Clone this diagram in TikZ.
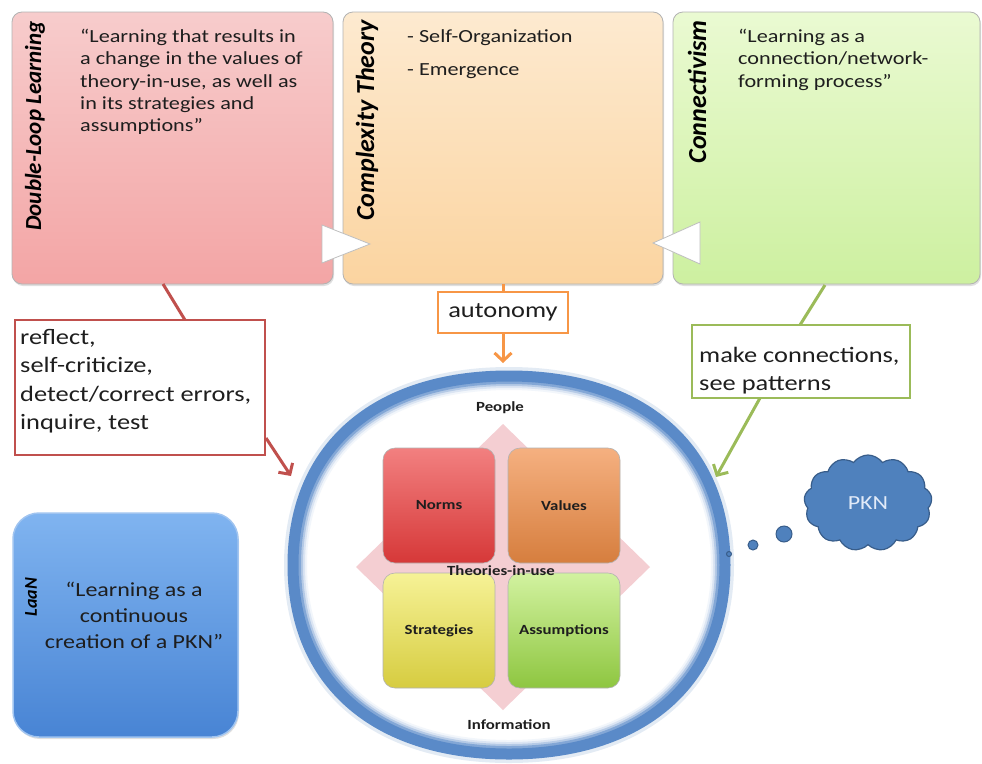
\documentclass[tikz,border=0pt]{standalone}
\usepackage{fontspec}
\setmainfont{Carlito}[FakeStretch=1.2]
\newfontfamily\rotfont{Carlito}
\usetikzlibrary{arrows.meta,shapes.symbols,shadows,calc}
\definecolor{cred}{HTML}{C0504D}
\definecolor{corange}{HTML}{F79646}
\definecolor{cgreen}{HTML}{9BBB59}
\definecolor{cblue}{HTML}{4F81BD}
\definecolor{cbluedark}{HTML}{385D8A}
\definecolor{ringblue}{HTML}{5A8AC8}
\definecolor{txt}{HTML}{1E1E1E}
\newcommand{\sqpath}[2]{(509+#1,565) .. controls (509+#1,565-0.62*#2) and (509+0.62*#1,565-#2) .. (509,565-#2) .. controls (509-0.62*#1,565-#2) and (509-#1,565-0.62*#2) .. (509-#1,565) .. controls (509-#1,565+0.62*#2) and (509-0.62*#1,565+#2) .. (509,565+#2) .. controls (509+0.62*#1,565+#2) and (509+#1,565+0.62*#2) .. (509+#1,565) -- cycle}
\begin{document}
\begin{tikzpicture}[x=1pt,y=-1pt,
  bigbox/.style={draw=black!30, line width=0.8pt, rounded corners=10pt, inner sep=0pt,
    drop shadow={opacity=0.25,shadow xshift=1pt,shadow yshift=-2pt}},
  boxtxt/.style={anchor=north west, align=left, inner sep=0pt, text=txt,
    font=\fontsize{18.5}{22.3}\selectfont},
  vtitle/.style={rotate=90, anchor=east, inner sep=0pt, text=black},
  callout/.style={line width=2pt, fill=white, inner sep=0pt},
  callouttxt/.style={anchor=north west, align=left, inner sep=0pt, text=txt,
    font=\fontsize{22}{28.5}\selectfont},
  conn/.style={line width=3pt},
  arrowed/.style={-{Straight Barb[length=8pt,width=17pt,line width=3pt]}},
  tile/.style={rounded corners=12pt, minimum width=112pt, minimum height=115pt, inner sep=0pt,
    draw=white!70!black, line width=0.6pt, text=txt,
    font=\bfseries\fontsize{14}{16}\selectfont},
  lbl/.style={inner sep=0pt, text=txt, font=\bfseries\fontsize{14}{16}\selectfont},
  dot/.style={circle, inner sep=0pt, fill=cblue, draw=cbluedark, line width=1pt}
]
\useasboundingbox (0,0) rectangle (982,763);

% ---- top boxes
\node[bigbox, minimum width=321pt, minimum height=272pt, top color={rgb,255:red,247;green,204;blue,204}, bottom color={rgb,255:red,243;green,165;blue,165}] (dll) at (172.5,148) {};
\node[bigbox, minimum width=320pt, minimum height=272pt, top color={rgb,255:red,253;green,234;blue,208}, bottom color={rgb,255:red,251;green,212;blue,160}] (ct) at (503,148) {};
\node[bigbox, minimum width=307pt, minimum height=272pt, top color={rgb,255:red,234;green,250;blue,210}, bottom color={rgb,255:red,205;green,240;blue,160}] (cn) at (826.5,148) {};

\node[vtitle, font=\rotfont\bfseries\itshape\fontsize{23}{28}\selectfont] (dllt) at (35,21) {Double-Loop Learning};
\node[vtitle, font=\rotfont\bfseries\itshape\fontsize{26}{30}\selectfont] (ctt) at (367,20) {Complexity Theory};
\node[vtitle, font=\rotfont\bfseries\itshape\fontsize{26}{30}\selectfont] (cnt) at (697,20) {Connectivism};

\node[boxtxt] (dllx) at (80,29) {“Learning that results in\\a change in the values of\\theory-in-use, as well as\\in its strategies and\\assumptions”};
\node[boxtxt, font=\fontsize{18.5}{33}\selectfont] (ctx) at (407,29) {- Self-Organization\\- Emergence};
\node[boxtxt] (cnx) at (738,29) {“Learning as a\\connection/network-\\forming process”};

% white triangles
\draw[fill=white, draw=black!25, line width=0.8pt] (322,225) -- (370,244) -- (322,263) -- cycle;
\draw[fill=white, draw=black!25, line width=0.8pt] (700,222) -- (653,243) -- (700,264) -- cycle;

% ---- ring
\draw[line width=18pt, color=cblue!16] \sqpath{216}{189};
\fill[white] \sqpath{216}{189};
\begin{scope}
  \clip \sqpath{216}{189};
  \draw[line width=28pt, color=ringblue!8] \sqpath{216}{189};
  \draw[line width=24pt, color=ringblue!22] \sqpath{216}{189};
  \draw[line width=20pt, color=ringblue!45] \sqpath{216}{189};
  \draw[line width=16pt, color=ringblue!75] \sqpath{216}{189};
\end{scope}
\draw[line width=11pt, color=ringblue] \sqpath{216}{189};
\coordinate (ring) at (509,565);

% diamond
\fill[color={rgb,255:red,244;green,206;blue,210}] (503,424) -- (650,567) -- (503,710) -- (356,567) -- cycle;

% tiles
\node[tile, top color={rgb,255:red,242;green,128;blue,128}, bottom color={rgb,255:red,214;green,56;blue,56}] (norms) at (439,505.5) {Norms};
\node[tile, top color={rgb,255:red,245;green,176;blue,128}, bottom color={rgb,255:red,214;green,126;blue,62}] (values) at (564,505.5) {Values};
\node[tile, top color={rgb,255:red,246;green,242;blue,150}, bottom color={rgb,255:red,214;green,204;blue,64}] (strat) at (439,630.5) {Strategies};
\node[tile, top color={rgb,255:red,210;green,242;blue,160}, bottom color={rgb,255:red,142;green,198;blue,64}] (assum) at (564,630.5) {Assumptions};

\node[lbl] (tiu) at (501,571) {Theories-in-use};
\node[lbl] (people) at (500,408) {People};
\node[lbl] (info) at (509,725) {Information};

% ---- autonomy
\node[callout, draw=corange, minimum width=130pt, minimum height=41pt, text=txt, font=\fontsize{22}{28.5}\selectfont] (auto) at (503,312.5) {autonomy};
\coordinate (ringN) at (503,363);
\draw[conn, corange] (ct.south) -- (auto.north);
\draw[conn, corange, arrowed] (auto.south) -- (ringN);

% ---- red callout
\node[callout, draw=cred, minimum width=250pt, minimum height=135pt] (refl) at (140,387.5) {};
\node[callouttxt] (reflx) at (20,329) {reflect,\\self-criticize,\\detect/correct errors,\\inquire, test};
\coordinate (dllout) at (163,284);
\coordinate (reflin) at (185,320);
\coordinate (ringW) at (291,476);
\draw[conn, cred] (dllout) -- (reflin);
\draw[conn, cred, arrowed] ($(refl.south east)+(0,-18)$) -- (ringW);

% ---- green callout
\node[callout, draw=cgreen, minimum width=218pt, minimum height=73pt] (mkc) at (801,361.5) {};
\node[callouttxt] (mkcx) at (699,347) {make connections,\\see patterns};
\coordinate (cnout) at (825,285);
\coordinate (mkcin) at (800,325);
\coordinate (mkcout) at (760,398);
\coordinate (ringE) at (716,477);
\draw[conn, cgreen] (cnout) -- (mkcin);
\draw[conn, cgreen, arrowed] (mkcout) -- (ringE);

% ---- dots and cloud
\node[dot, minimum size=5pt] (d1) at (729,554) {};
\node[dot, minimum size=10pt] (d2) at (753,545) {};
\node[dot, minimum size=16pt] (d3) at (784,534) {};
\node[cloud, cloud puffs=13, cloud puff arc=110, aspect=1.3, fill=cblue, draw=cbluedark, line width=1.2pt,
  minimum width=128pt, minimum height=96pt, inner sep=0pt, text={rgb,255:red,225;green,234;blue,248},
  font=\fontsize{20}{24}\selectfont] (pkn) at (868,503) {PKN};

% ---- LaaN box
\node[rounded corners=26pt, minimum width=225pt, minimum height=224pt, inner sep=0pt,
  top color={rgb,255:red,128;green,180;blue,240}, bottom color={rgb,255:red,72;green,132;blue,212},
  draw={rgb,255:red,160;green,196;blue,240}, line width=1.5pt,
  drop shadow={opacity=0.25,shadow xshift=1pt,shadow yshift=-2pt}] (laan) at (125.5,625) {};
\node[rotate=90, inner sep=0pt, text=black, font=\rotfont\bfseries\itshape\fontsize{18}{20}\selectfont] (laant) at (31,597) {LaaN};
\node[align=center, inner sep=0pt, text=txt, font=\fontsize{20}{26}\selectfont] (laanx) at (134,615) {“Learning as a\\continuous\\creation of a PKN”};
\end{tikzpicture}
\end{document}
